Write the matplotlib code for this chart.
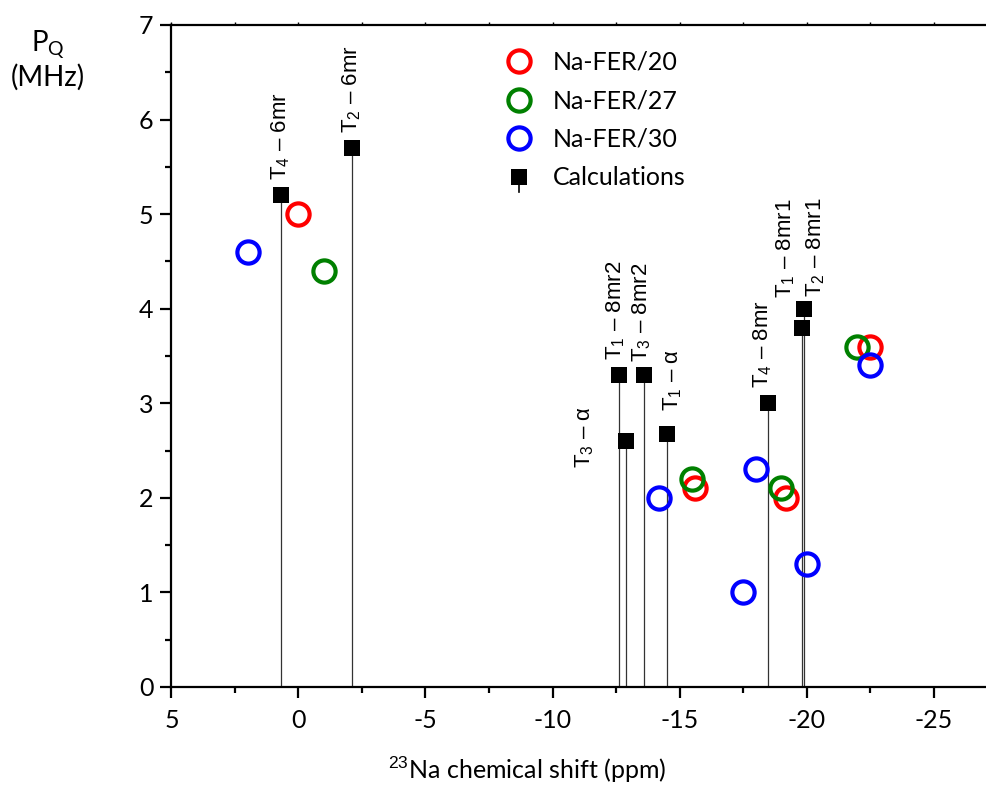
import matplotlib
matplotlib.use("Agg")
import matplotlib.pyplot as plt
from matplotlib.lines import Line2D
from matplotlib.legend_handler import HandlerBase
from matplotlib.ticker import MultipleLocator

# ---------------- data ----------------
calc_labels = ["T$_4$ – 6mr", "T$_2$ – 6mr", "T$_3$ – α", "T$_1$ – 8mr2", "T$_3$ – 8mr2",
               "T$_1$ – α", "T$_4$ – 8mr", "T$_1$ – 8mr1", "T$_2$ – 8mr1"]
calc_shift = [0.7, -2.1, -12.9, -12.6, -13.6, -14.5, -18.5, -19.9, -19.8]
calc_pq = [5.2, 5.7, 2.6, 3.3, 3.3, 2.68, 3.0, 4.0, 3.8]
# label offsets (points) relative to the point
label_dx = [0, 0, -30, -2, -2, 4, -4, -13, 10]
label_dy = [11, 11, -19, 11, 9, 16, 11, 8, 22]

fer20_shift = [0.0, -15.6, -19.2, -22.5]
fer20_pq = [5.0, 2.1, 2.0, 3.6]
fer27_shift = [-1.0, -15.5, -19.0, -22.0]
fer27_pq = [4.4, 2.2, 2.1, 3.6]
fer30_shift = [2.0, -14.2, -18.0, -17.5, -20.0, -22.5]
fer30_pq = [4.6, 2.0, 2.3, 1.0, 1.3, 3.4]

series_names = ["Na-FER/20", "Na-FER/27", "Na-FER/30", "Calculations"]
series_colors = ["#ff0000", "#008000", "#0000ff", "black"]

plt.rcParams['mathtext.fontset'] = 'custom'
plt.rcParams['mathtext.rm'] = 'Liberation Sans'
plt.rcParams['mathtext.it'] = 'Liberation Sans'

TICKFONT = 'Lato'

fig = plt.figure(figsize=(9.87, 7.85), dpi=100)
ax = fig.add_axes([171.4/987, 1-687/785, 1-171.4/987, (687-25)/785])

# drop lines + squares
for x, y in zip(calc_shift, calc_pq):
    ax.plot([x, x], [0, y], color='#333333', lw=0.9, zorder=2)
ax.plot(calc_shift, calc_pq, 's', color='black', ms=12, mew=0, zorder=4, linestyle='none')

circle_kw = dict(marker='o', linestyle='none', ms=16, mew=3.0, markerfacecolor='none', zorder=5)
h20, = ax.plot(fer20_shift, fer20_pq, markeredgecolor=series_colors[0], **circle_kw)
h27, = ax.plot(fer27_shift, fer27_pq, markeredgecolor=series_colors[1], **circle_kw)
h30, = ax.plot(fer30_shift, fer30_pq, markeredgecolor=series_colors[2], **circle_kw)

for lab, x, y, dx, dy in zip(calc_labels, calc_shift, calc_pq, label_dx, label_dy):
    ax.annotate(lab, xy=(x, y), xytext=(dx, dy), textcoords='offset points',
                rotation=90, ha='center', va='bottom', fontsize=16,
                family='Liberation Sans')

ax.set_xlim(5, -27.1)
ax.set_ylim(0, 7)
ax.xaxis.set_major_locator(MultipleLocator(5))
ax.xaxis.set_minor_locator(MultipleLocator(2.5))
ax.yaxis.set_major_locator(MultipleLocator(1))
ax.yaxis.set_minor_locator(MultipleLocator(0.5))

for s in ['left', 'bottom', 'top']:
    ax.spines[s].set_linewidth(1.6)
ax.spines['right'].set_visible(False)

ax.tick_params(axis='both', which='major', direction='out', length=8, width=1.6,
               labelsize=18)
ax.tick_params(axis='both', which='minor', direction='out', length=4.5, width=1.6)
ax.tick_params(axis='x', which='both', pad=8)
ax.tick_params(axis='y', which='both', pad=5)
ax.set_xticks(ax.get_xticks())
ax.set_xticklabels([str(int(v)) for v in ax.get_xticks()])
ax.set_xlim(5, -27.1)
for lab in ax.get_xticklabels() + ax.get_yticklabels():
    lab.set_family(TICKFONT)

# short inward ticks on the top spine
ax.xaxis.set_tick_params(which='both', top=True)
for t in ax.xaxis.get_major_ticks() + ax.xaxis.get_minor_ticks():
    t.tick2line.set_markersize(2.5)
    t.tick2line.set_markeredgewidth(1.0)

fig.text(527/987, 1-770/785, "$^{23}$Na chemical shift (ppm)", ha='center', va='center',
         fontsize=18, family=TICKFONT)
fig.text(48/987, 1-45/785, "P$_\\mathregular{Q}$", ha='center', va='center', fontsize=20, family=TICKFONT)
fig.text(48/987, 1-77/785, "(MHz)", ha='center', va='center', fontsize=20, family=TICKFONT)


class HandlerStem(HandlerBase):
    def create_artists(self, legend, orig_handle, xdescent, ydescent, width, height,
                       fontsize, trans):
        cx = width / 2 - xdescent
        cy = height / 2 - ydescent
        stem = Line2D([cx, cx], [cy, cy - height * 0.9], color='black', lw=1.2, transform=trans)
        sq = Line2D([cx], [cy], marker='s', ms=12, mew=0, color='black', transform=trans)
        return [stem, sq]


hcalc = Line2D([], [], marker='s', color='black', linestyle='none')
leg = ax.legend([h20, h27, h30, hcalc], series_names, loc='upper left',
                bbox_to_anchor=(0.38, 0.995), frameon=False, handlelength=1.2,
                handletextpad=0.75, labelspacing=0.62,
                prop={'family': TICKFONT, 'size': 18},
                handler_map={hcalc: HandlerStem()})

fig.savefig("out.png", dpi=100)
